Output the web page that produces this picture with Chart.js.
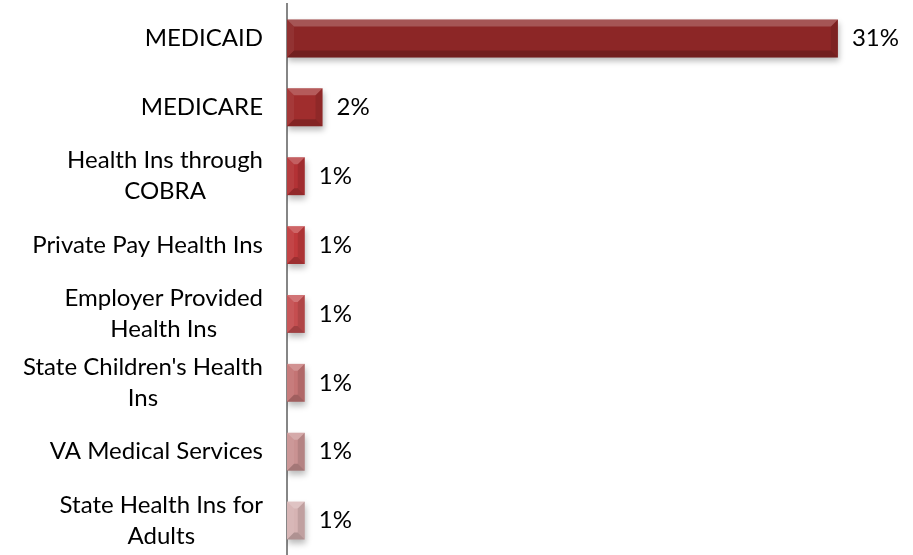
<!DOCTYPE html>
<html>
<head>
<meta charset="utf-8">
<title>Health coverage</title>
<script src="https://cdn.jsdelivr.net/npm/chart.js@4/dist/chart.umd.min.js"></script>
<style>
  html, body { margin: 0; padding: 0; background: #fff; }
  #wrap { width: 913px; height: 555px; position: relative; }
</style>
</head>
<body>
<div id="wrap"><canvas id="coverage"></canvas></div>
<script>
const categories = [
  ['MEDICAID'],
  ['MEDICARE'],
  ['Health Ins through', 'COBRA'],
  ['Private Pay Health Ins'],
  ['Employer Provided', 'Health Ins'],
  ["State Children's Health", 'Ins'],
  ['VA Medical Services'],
  ['State Health Ins for', 'Adults']
];
const percents = [31, 2, 1, 1, 1, 1, 1, 1];
const barColors = ['#8c2626', '#a02d2d', '#b33235', '#c03a3c', '#c54e50', '#c47474', '#c99292', '#d6b3b3'];
const axisMax = 35;

const FONT = '24px Lato, "Noto Sans", sans-serif';
const LINE_H = 31;

// soft shadow under the bars
const barShadow = {
  id: 'barShadow',
  beforeDatasetsDraw(chart) {
    const ctx = chart.ctx;
    ctx.save();
    ctx.shadowColor = 'rgba(0,0,0,0.28)';
    ctx.shadowBlur = 6;
    ctx.shadowOffsetX = 1;
    ctx.shadowOffsetY = 4;
  },
  afterDatasetsDraw(chart) {
    chart.ctx.restore();
  }
};

// bevelled edges on every bar
const bevel = {
  id: 'bevel',
  afterDatasetsDraw(chart) {
    const ctx = chart.ctx;
    chart.getDatasetMeta(0).data.forEach(bar => {
      const p = bar.getProps(['x', 'y', 'base', 'height'], true);
      const x0 = Math.min(p.base, p.x), x1 = Math.max(p.base, p.x);
      const y0 = p.y - p.height / 2, y1 = p.y + p.height / 2;
      const b = Math.min(7, (x1 - x0) / 2, (y1 - y0) / 2);
      const poly = (pts, fill) => {
        ctx.beginPath();
        ctx.moveTo(pts[0][0], pts[0][1]);
        pts.slice(1).forEach(q => ctx.lineTo(q[0], q[1]));
        ctx.closePath();
        ctx.fillStyle = fill;
        ctx.fill();
      };
      ctx.save();
      poly([[x0, y0], [x1, y0], [x1 - b, y0 + b], [x0 + b, y0 + b]], 'rgba(255,255,255,0.22)');
      poly([[x0, y1], [x1, y1], [x1 - b, y1 - b], [x0 + b, y1 - b]], 'rgba(0,0,0,0.18)');
      poly([[x0, y0], [x0 + b, y0 + b], [x0 + b, y1 - b], [x0, y1]], 'rgba(255,255,255,0.06)');
      poly([[x1, y0], [x1 - b, y0 + b], [x1 - b, y1 - b], [x1, y1]], 'rgba(0,0,0,0.10)');
      ctx.restore();
    });
  }
};

// category names, each line centred inside its block, block right-aligned
const categoryLabels = {
  id: 'categoryLabels',
  afterDraw(chart) {
    const ctx = chart.ctx;
    const yScale = chart.scales.y;
    const right = chart.chartArea.left - 24;
    ctx.save();
    ctx.font = FONT;
    ctx.fillStyle = '#000';
    ctx.textAlign = 'center';
    ctx.textBaseline = 'middle';
    categories.forEach((lines, i) => {
      const w = Math.max(...lines.map(l => ctx.measureText(l).width));
      const cx = right - w / 2;
      const cy = yScale.getPixelForTick(i);
      const top = cy - (lines.length - 1) * LINE_H / 2;
      lines.forEach((l, j) => ctx.fillText(l, cx, top + j * LINE_H));
    });
    ctx.restore();
  }
};

// percentage next to each bar
const valueLabels = {
  id: 'valueLabels',
  afterDraw(chart) {
    const ctx = chart.ctx;
    ctx.save();
    ctx.font = FONT;
    ctx.fillStyle = '#000';
    ctx.textAlign = 'left';
    ctx.textBaseline = 'middle';
    chart.getDatasetMeta(0).data.forEach((bar, i) => {
      ctx.fillText(percents[i] + '%', bar.x + 14, bar.y);
    });
    ctx.restore();
  }
};

new Chart(document.getElementById('coverage'), {
  type: 'bar',
  data: {
    labels: categories,
    datasets: [{
      data: percents,
      backgroundColor: barColors,
      borderWidth: 0,
      categoryPercentage: 1,
      barPercentage: 0.55
    }]
  },
  options: {
    indexAxis: 'y',
    responsive: true,
    maintainAspectRatio: false,
    animation: false,
    layout: { padding: { left: 279, right: 4, top: 4, bottom: 0 } },
    plugins: { legend: { display: false }, tooltip: { enabled: false } },
    scales: {
      x: { display: false, min: 0, max: axisMax },
      y: {
        grid: { display: false },
        border: { color: '#868686', width: 2 },
        ticks: { display: false }
      }
    }
  },
  plugins: [barShadow, bevel, categoryLabels, valueLabels]
});
</script>
</body>
</html>
